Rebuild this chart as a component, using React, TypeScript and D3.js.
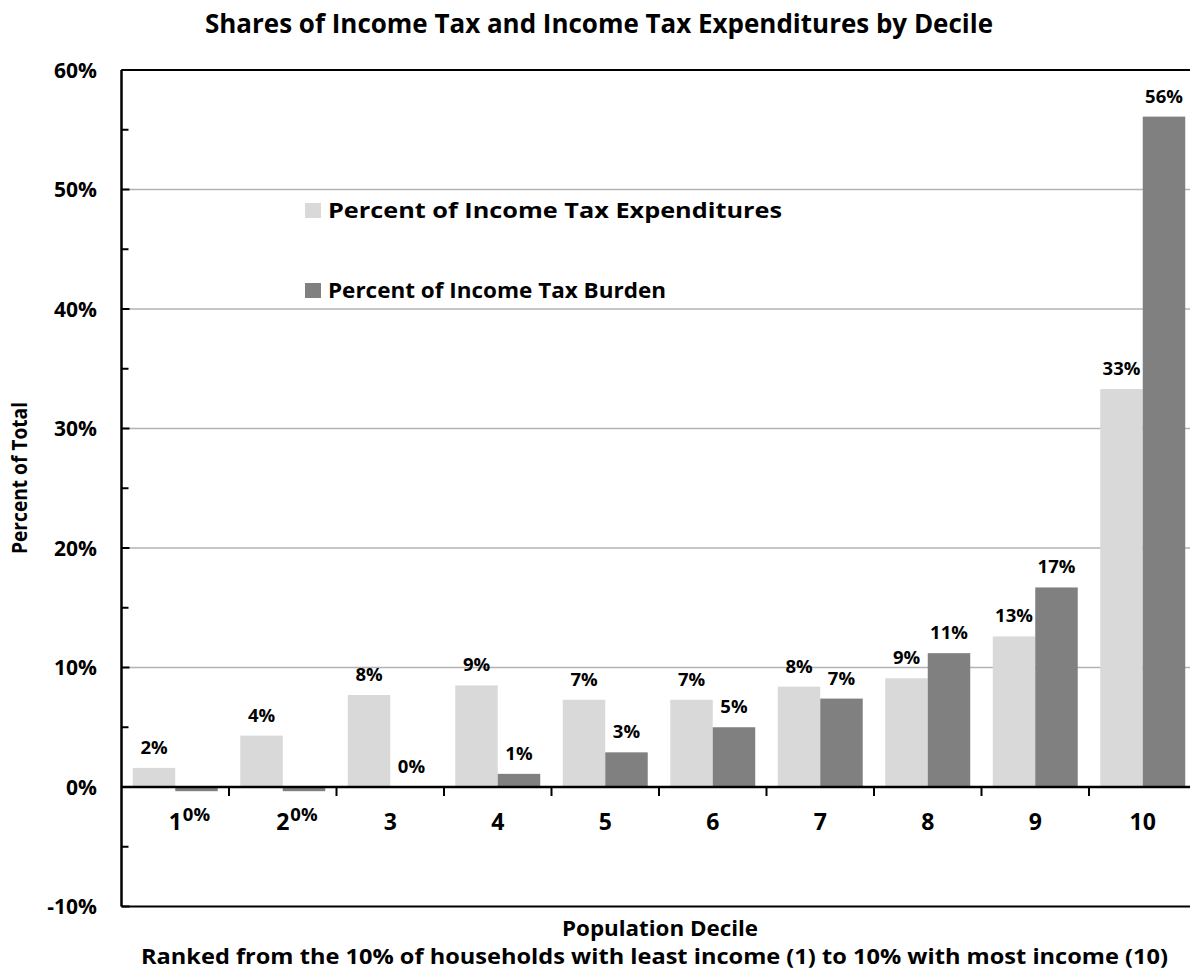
import React from "react";
import * as d3 from "d3";

const deciles = ["1", "2", "3", "4", "5", "6", "7", "8", "9", "10"];
const expenditures = [1.6, 4.3, 7.7, 8.5, 7.3, 7.3, 8.4, 9.1, 12.6, 33.3];
const burden = [-0.35, -0.35, 0.0, 1.1, 2.9, 5.0, 7.4, 11.2, 16.7, 56.1];
const seriesNames = ["Percent of Income Tax Expenditures", "Percent of Income Tax Burden"];
const seriesColors = ["#d9d9d9", "#808080"];
const majorTicks = [-10, 0, 10, 20, 30, 40, 50, 60];
const minorTicks = [-5, 5, 15, 25, 35, 45, 55];
const gridTicks = [10, 20, 30, 40, 50];

const FONT = "'Open Sans', 'Noto Sans', sans-serif";

export default function App() {
  const W = 1190, H = 975;
  const left = 121.5, right = 1196.5, top = 70, bottom = 906.5;
  const x = d3.scaleBand().domain(deciles).range([left, right]).paddingInner(0).paddingOuter(0);
  const xSub = d3.scaleBand().domain(["0", "1"]).range([0, x.bandwidth()]).paddingInner(0).paddingOuter(0.265);
  const y = d3.scaleLinear().domain([-10, 60]).range([bottom, top]);
  const series = [expenditures, burden];
  const lbl = (v: number) => {
    const r = Math.round(v);
    return `${r === 0 ? 0 : r}%`;
  };
  const boundaries = deciles.slice(1).map((d) => x(d) as number);
  const legendLengths = [454, 338];

  return (
    <svg width={W} height={H} style={{ position: "absolute", left: 0, top: 0, background: "#fff" }} fontFamily={FONT}>
      <rect x={0} y={0} width={W} height={H} fill="#fff" />
      <text x={599} y={33} textAnchor="middle" fontSize={27.5} fontWeight="bold" textLength={788} lengthAdjust="spacingAndGlyphs">
        Shares of Income Tax and Income Tax Expenditures by Decile
      </text>
      {gridTicks.map((t) => (
        <line key={"g" + t} x1={left} x2={right} y1={y(t)} y2={y(t)} stroke="#b3b3b3" strokeWidth={1.5} />
      ))}
      {series.map((vals, si) =>
        vals.map((v, i) => {
          const bx = (x(deciles[i]) as number) + (xSub(String(si)) as number);
          const y0 = y(0), y1 = y(v);
          return (
            <rect key={`b${si}-${i}`} x={bx} y={Math.min(y0, y1)} width={xSub.bandwidth()} height={Math.abs(y1 - y0)} fill={seriesColors[si]} />
          );
        })
      )}
      <line x1={left} x2={right} y1={top} y2={top} stroke="#000" strokeWidth={2} />
      <line x1={left} x2={right} y1={bottom} y2={bottom} stroke="#000" strokeWidth={2} />
      <line x1={right} x2={right} y1={top} y2={bottom} stroke="#000" strokeWidth={2} />
      <line x1={left} x2={left} y1={top} y2={bottom} stroke="#000" strokeWidth={2.5} />
      {majorTicks.map((t) => (
        <g key={"t" + t}>
          <line x1={left} x2={left + 8} y1={y(t)} y2={y(t)} stroke="#000" strokeWidth={2} />
          <text x={97} y={y(t) + 7.5} textAnchor="end" fontSize={21} fontWeight="bold">{`${t}%`}</text>
        </g>
      ))}
      {minorTicks.map((t) => (
        <line key={"m" + t} x1={left} x2={left + 7} y1={y(t)} y2={y(t)} stroke="#000" strokeWidth={2} />
      ))}
      <line x1={left} x2={right} y1={y(0)} y2={y(0)} stroke="#000" strokeWidth={2.5} />
      {boundaries.map((bx, i) => (
        <line key={"xt" + i} x1={bx} x2={bx} y1={y(0)} y2={y(0) + 9} stroke="#000" strokeWidth={2} />
      ))}
      {deciles.map((d) => (
        <text key={"c" + d} x={(x(d) as number) + x.bandwidth() / 2} y={830} textAnchor="middle" fontSize={23} fontWeight="bold">{d}</text>
      ))}
      {series.map((vals, si) =>
        vals.map((v, i) => {
          const cx = (x(deciles[i]) as number) + (xSub(String(si)) as number) + xSub.bandwidth() / 2;
          const ly = v < 0 ? y(v) + 30 : y(v) - 14;
          return (
            <text key={`l${si}-${i}`} x={cx} y={ly} textAnchor="middle" fontSize={18.5} fontWeight="bold">{lbl(v)}</text>
          );
        })
      )}
      {seriesNames.map((n, i) => (
        <g key={"lg" + i}>
          <rect x={305} y={203 + i * 80} width={16} height={15} fill={seriesColors[i]} />
          <text x={328} y={218 + i * 80} fontSize={21} fontWeight="bold" textLength={legendLengths[i]} lengthAdjust="spacingAndGlyphs">{n}</text>
        </g>
      ))}
      <text transform={`translate(27,478) rotate(-90)`} textAnchor="middle" fontSize={21} fontWeight="bold" textLength={152} lengthAdjust="spacingAndGlyphs">Percent of Total</text>
      <text x={660} y={936} textAnchor="middle" fontSize={20.5} fontWeight="bold" textLength={196} lengthAdjust="spacingAndGlyphs">Population Decile</text>
      <text x={654.5} y={964} textAnchor="middle" fontSize={21} fontWeight="bold" textLength={1027} lengthAdjust="spacingAndGlyphs">
        Ranked from the 10% of households with least income (1) to 10% with most income (10)
      </text>
    </svg>
  );
}
